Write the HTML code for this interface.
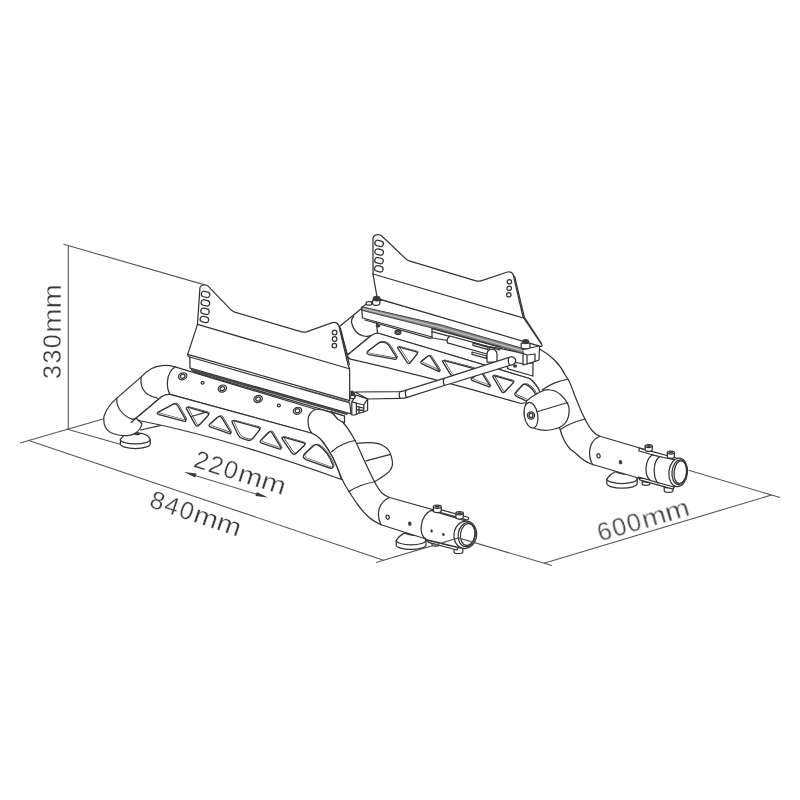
<!DOCTYPE html>
<html><head><meta charset="utf-8"><title>Seat bracket dimensions</title>
<style>
html,body{margin:0;padding:0;background:#fff;}
svg{display:block}
.l{fill:none;stroke:#383333;stroke-width:1.25;stroke-linecap:round;stroke-linejoin:round}
.f{fill:#fff;stroke:#383333;stroke-width:1.25;stroke-linecap:round;stroke-linejoin:round}
.k{fill:#3d3838;stroke:none}
.d{fill:none;stroke:#5a5555;stroke-width:1.1;stroke-linecap:butt}
.t{font-family:"Liberation Sans",sans-serif;font-size:25px;fill:#3e3a39;stroke:#fff;stroke-width:0.3px}
</style></head><body>
<svg width="800" height="800" viewBox="0 0 800 800">
<rect width="800" height="800" fill="#fff"/>
<!-- dimension / extension lines behind the object -->
<g class="d">
<path d="M63.5 244.2 L204.8 284.9"/>
<path d="M68.25 245.5 V429.5"/>
<path d="M20 443 L103 419"/>
<path d="M28 440.2 L383.5 560.2"/>
<path d="M66.5 429 L121 444.5"/>
<path d="M771.5 495 L544 563.2"/>
<path d="M190 474 L262 495.8"/>
</g>
<g class="k">
<path d="M184 472 L196.5 473.6 L195.2 477.6 Z"/>
<path d="M268 497.6 L255.5 496 L256.8 492 Z"/>
</g>
<path class="f" d="M606.80 479.00 V483.60 A15.2 4.5 0 0 0 637.20 483.60 V479.00 C636.20 476.40 632.00 473.80 628.00 473.00 L615.00 471.80 C612.00 473.40 608.30 476.80 606.80 479.00 Z"/><path class="l" d="M606.80 479.00 A15.2 4.5 0 0 0 637.20 479.00"/><ellipse class="k" cx="621.70" cy="472.80" rx="5.6" ry="1.5" transform="rotate(12 621.70 472.80)"/>
<!-- back tube -->
<path class="f" d="M339.4 326.6 L361.25 308.75 L380 312 L380 334 L371.25 335.6 L347.5 355 Z"/>
<path class="l" d="M353.75 316.25 C351.5 319 351 321.5 351.9 323.75 C352.6 326.5 353.8 329 355.6 331.25 C358 334 361.5 335.8 365 336.25 C368.5 336.8 373 335.6 376.5 333.2"/>
<!-- main back tube + S bend -->
<path class="f" d="M377.5 333 L375 308 L520 340 L540 349.25 C546 352.5 551 356.5 555 360.5 C559.5 365 563 370.5 565.5 375.5 L568.5 380 C571 385 572.8 390 574.5 395 C577.2 401.5 579.6 407.5 582 413 C583.6 416.3 585 419.3 586.5 422 C588.3 425.3 590.3 428.5 592.5 431 C594.8 433.6 597 435.2 600 436.25 L660 454 L655 483 L591.25 464 C586 462 581.5 459 577.5 455 C574.5 452 572 450.5 570 449 C567.5 446 565.5 443 564 440 C562.3 436.6 561 433 560.25 429.5 L540 392 C538.8 389 537.3 386.5 535.5 384.5 C533.8 382 532 380 529.5 378.5 Z"/>
<path class="l" d="M542.25 389.75 C546.5 386.8 551 384.5 555.5 382.7 C559.5 381.1 563.8 380 567.75 379.25"/>
<path class="l" d="M560.25 429.5 C564 427 568 424.8 572.5 423 C576.5 421.3 581 420 585 419"/>
<path class="l" d="M600 436.25 C595.5 438 592.5 441 591 445 C589.3 449.5 589.3 454.5 590.2 458.5 C590.7 460.8 591.5 463 592.75 464.75"/>
<ellipse class="l" cx="598.5" cy="455.8" rx="1.6" ry="2.1" transform="rotate(-15 598.5 455.8)"/>
<ellipse class="k" cx="620.5" cy="462.2" rx="1.7" ry="2.2" transform="rotate(-15 620.5 462.2)"/>
<!-- back gusset plate -->
<path class="f" d="M347.5 355 L371.25 335.6 Q374.5 333.2 377.5 333 L529.5 378.5 C532 380 533.8 382 535.5 384.5 C537.3 386.5 538.8 389 540 392 L545 400 L521 403.5 Q430 377 350.5 359.2 Q347.6 358.4 347.5 355 Z"/>
<clipPath id="c1"><path d="M368 351 L378.5 343 Q381 341.4 384.5 342.4 Q387.5 343.4 389 345.6 L396.2 356.8 Q397.6 359.8 394.2 359.2 L369 354.6 Q365.6 353.4 368 351 Z"/></clipPath><path class="f" d="M368 351 L378.5 343 Q381 341.4 384.5 342.4 Q387.5 343.4 389 345.6 L396.2 356.8 Q397.6 359.8 394.2 359.2 L369 354.6 Q365.6 353.4 368 351 Z" style="stroke-width:1.35"/><path class="l" clip-path="url(#c1)" transform="translate(1.3 -1.0)" d="M368 351 L378.5 343 Q381 341.4 384.5 342.4 Q387.5 343.4 389 345.6 L396.2 356.8 Q397.6 359.8 394.2 359.2 L369 354.6 Q365.6 353.4 368 351 Z"/>
<clipPath id="c2"><path d="M398.14 348.74 Q396.60 346.40 399.30 347.14 L415.70 351.66 Q418.40 352.40 416.65 354.58 L410.35 362.42 Q408.60 364.60 407.06 362.26 Z"/></clipPath><path class="f" d="M398.14 348.74 Q396.60 346.40 399.30 347.14 L415.70 351.66 Q418.40 352.40 416.65 354.58 L410.35 362.42 Q408.60 364.60 407.06 362.26 Z" style="stroke-width:1.35"/><path class="l" clip-path="url(#c2)" transform="translate(1.3 -1.0)" d="M398.14 348.74 Q396.60 346.40 399.30 347.14 L415.70 351.66 Q418.40 352.40 416.65 354.58 L410.35 362.42 Q408.60 364.60 407.06 362.26 Z"/>
<clipPath id="c3"><path d="M422.14 363.78 Q419.60 362.60 421.79 360.86 L427.21 356.54 Q429.40 354.80 430.90 357.16 L439.10 370.04 Q440.60 372.40 438.06 371.22 Z"/></clipPath><path class="f" d="M422.14 363.78 Q419.60 362.60 421.79 360.86 L427.21 356.54 Q429.40 354.80 430.90 357.16 L439.10 370.04 Q440.60 372.40 438.06 371.22 Z" style="stroke-width:1.35"/><path class="l" clip-path="url(#c3)" transform="translate(1.3 -1.0)" d="M422.14 363.78 Q419.60 362.60 421.79 360.86 L427.21 356.54 Q429.40 354.80 430.90 357.16 L439.10 370.04 Q440.60 372.40 438.06 371.22 Z"/>
<clipPath id="c4"><path d="M443.07 362.39 Q441.60 360.00 444.31 360.72 L472.09 368.08 Q474.80 368.80 472.94 370.89 L466.86 377.71 Q465.00 379.80 462.28 379.14 L454.52 377.26 Q451.80 376.60 450.33 374.21 Z"/></clipPath><path class="f" d="M443.07 362.39 Q441.60 360.00 444.31 360.72 L472.09 368.08 Q474.80 368.80 472.94 370.89 L466.86 377.71 Q465.00 379.80 462.28 379.14 L454.52 377.26 Q451.80 376.60 450.33 374.21 Z" style="stroke-width:1.35"/><path class="l" clip-path="url(#c4)" transform="translate(1.3 -1.0)" d="M443.07 362.39 Q441.60 360.00 444.31 360.72 L472.09 368.08 Q474.80 368.80 472.94 370.89 L466.86 377.71 Q465.00 379.80 462.28 379.14 L454.52 377.26 Q451.80 376.60 450.33 374.21 Z"/>
<clipPath id="c5"><path d="M472.62 380.60 Q470.00 379.60 472.26 377.95 L478.74 373.25 Q481.00 371.60 482.48 373.97 L489.52 385.23 Q491.00 387.60 488.38 386.60 Z"/></clipPath><path class="f" d="M472.62 380.60 Q470.00 379.60 472.26 377.95 L478.74 373.25 Q481.00 371.60 482.48 373.97 L489.52 385.23 Q491.00 387.60 488.38 386.60 Z" style="stroke-width:1.35"/><path class="l" clip-path="url(#c5)" transform="translate(1.3 -1.0)" d="M472.62 380.60 Q470.00 379.60 472.26 377.95 L478.74 373.25 Q481.00 371.60 482.48 373.97 L489.52 385.23 Q491.00 387.60 488.38 386.60 Z"/>
<clipPath id="c6"><path d="M493.23 377.41 Q491.80 375.00 494.49 375.78 L511.71 380.82 Q514.40 381.60 512.49 383.65 L504.91 391.75 Q503.00 393.80 501.57 391.39 Z"/></clipPath><path class="f" d="M493.23 377.41 Q491.80 375.00 494.49 375.78 L511.71 380.82 Q514.40 381.60 512.49 383.65 L504.91 391.75 Q503.00 393.80 501.57 391.39 Z" style="stroke-width:1.35"/><path class="l" clip-path="url(#c6)" transform="translate(1.3 -1.0)" d="M493.23 377.41 Q491.80 375.00 494.49 375.78 L511.71 380.82 Q514.40 381.60 512.49 383.65 L504.91 391.75 Q503.00 393.80 501.57 391.39 Z"/>
<clipPath id="c7"><path d="M515.4 392.6 L522.2 385.2 Q523.8 383.6 526 384.6 C530.5 386.6 534 390.5 536.2 395.5 L538 401 L525.6 400.6 L516.6 396.4 Q513.6 394.8 515.4 392.6 Z"/></clipPath><path class="f" d="M515.4 392.6 L522.2 385.2 Q523.8 383.6 526 384.6 C530.5 386.6 534 390.5 536.2 395.5 L538 401 L525.6 400.6 L516.6 396.4 Q513.6 394.8 515.4 392.6 Z" style="stroke-width:1.35"/><path class="l" clip-path="url(#c7)" transform="translate(1.3 -1.0)" d="M515.4 392.6 L522.2 385.2 Q523.8 383.6 526 384.6 C530.5 386.6 534 390.5 536.2 395.5 L538 401 L525.6 400.6 L516.6 396.4 Q513.6 394.8 515.4 392.6 Z"/>
<!-- knob -->
<path class="f" d="M526.5 401 C530.5 397.5 535 394.5 540 392 C543 390.6 546 389.6 549 389.75 C553.5 390 557.8 392 561 395 C564 397.8 566.3 400.8 567.75 404 C568.8 406.3 569.3 408.2 569.25 410 C569.2 413.8 568.6 417.4 567 420.5 C565 424.2 562 426.6 558 428 C554.6 429.2 551 430 547.5 430.25 C543.3 430.4 539.5 430 535.5 428.75 L528 424 L524.5 412 Z"/>
<path class="l" d="M537.75 411.5 L567.75 402.5"/>
<ellipse class="f" cx="531" cy="415.25" rx="6.75" ry="12.9" transform="rotate(-10 531 415.25)"/>
<circle class="f" cx="531" cy="415.4" r="3.6"/>
<circle cx="531" cy="415.4" r="2" fill="none" stroke="#3d3838" stroke-width="1.4"/>
<path class="f" d="M507.5 361 L524 364 L533 363 L532.9 376 L507.5 368.7 Z"/>
<ellipse class="k" cx="515" cy="366" rx="2.1" ry="1.8"/>
<!-- back rail -->
<path class="f" d="M361.5 307.4 L368.5 302.6 L383 300.2 L539.6 345 L539 360 L533 362.2 L523 365 L523 353.4 L500 348.4 L432 338 L432 337 L362.5 318 Z"/>
<path d="M362.2 306.8 L440 324.6 L523 348.4 L523 353.4 L440 330 L362.2 310.4 Z" fill="#8c8787" stroke="#3d3838" stroke-width="0.9" stroke-linejoin="round"/>
<path d="M362.4 308.6 L440 327.3 L523 350.9" fill="none" stroke="#dcd9d9" stroke-width="0.8"/>
<path class="l" d="M432 328 V337.4 M365 320 L431 338.6"/>
<path class="l" d="M432 328.6 L500 347.2 M432 331.6 L500 349.8"/>
<!-- end cap -->
<path class="l" d="M523 349.5 L539 346 M527 355 L535 354 V361.4 M527 355 V364 M523 353.4 L527 355"/>
<!-- gas strut, tabs, handle -->
<path class="f" d="M449.75 336 L474.5 342.75 L489.5 347 L489.5 354.75 L447.5 342.9 Q446 339.4 449.75 336 Z"/>
<path class="f" d="M473 343.2 L488 347.4 L488 349.6 L473 345.4 Z"/>
<path class="f" d="M472 352 L486.5 356 L486.5 358.4 L472 354.4 Z"/>
<path class="f" d="M487 362 V354 A5 5 0 0 1 497 354 V362 Z"/>
<!-- bolts under rail -->
<ellipse class="k" cx="378" cy="325.8" rx="2.4" ry="1.6"/>
<ellipse class="f" cx="398" cy="332.2" rx="3" ry="2.2"/><ellipse class="l" cx="398" cy="332.2" rx="1.5" ry="1.1"/>
<!-- back seat bracket -->
<path class="f" d="M373 238.4 Q373.2 235.4 376.4 234.8 Q380 234.2 381.8 236 L405.6 258.6 Q407.6 260.6 410 261.2 L476 280.8 Q478.6 281.6 481 280.8 L507.6 272 Q511.4 271 513.2 274.6 L523 317 L542 345 Q542.6 346.6 540.6 346.4 L383 300.2 L377.2 298 L373 274 Z"/>
<path class="l" d="M373 274 L523.4 318"/>
<path class="l" d="M514.6 276.4 L524.4 317.4 L541.4 343.4"/>
<rect class="l" x="374.90" y="240.60" width="8.6" height="5.6" rx="2.80" transform="rotate(14 379.2 243.4)"/><rect class="l" x="374.90" y="249.20" width="8.6" height="5.6" rx="2.80" transform="rotate(14 379.2 252)"/><rect class="l" x="374.70" y="257.80" width="8.6" height="5.6" rx="2.80" transform="rotate(14 379 260.6)"/><rect class="l" x="374.50" y="266.00" width="8.6" height="5.6" rx="2.80" transform="rotate(14 378.8 268.8)"/><circle class="l" cx="509.4" cy="281.8" r="2.2"/><circle class="l" cx="509.2" cy="288.2" r="2.2"/><circle class="l" cx="508.8" cy="294.8" r="2.2"/><!-- bolt on top right -->
<path class="f" d="M521.2 343 V347 A4.4 1.8 0 0 0 530 347 V343 Z"/>
<ellipse class="k" cx="525.6" cy="341.6" rx="3.6" ry="2.6"/>
<!-- bolt on top left -->
<ellipse class="f" cx="369" cy="303.4" rx="3" ry="1.8"/>
<path class="f" d="M372.6 300 V303.6 A3.6 1.8 0 0 0 379.8 303.6 V300 Z"/>
<ellipse class="k" cx="376.6" cy="298.6" rx="3.8" ry="2.8"/>
<!-- cross rod -->
<path class="f" d="M355 392 L400 391.6 Q403 391.4 406 390.2 L444 378.4 L510 357 Q514.6 356.4 515.6 360 Q516 363.4 512.4 364.6 L446 385 L408 397.2 Q404 398.4 400 398.4 L367.7 399 Z"/>
<path class="l" d="M400 391.6 Q398.4 395 400 398.4 M406 390.2 Q404.4 393.8 406.6 397.6 M444 378.4 Q442.6 381.8 444.4 385.4 M509 357.4 Q507.4 360.8 509.4 365"/>
<!-- rear clamp -->
<g>
<path class="f" d="M642.2 481.6 V483.8 A3.8 1.6 0 0 0 649.8 483.8 V482.6 Z"/>
<path class="f" d="M664.2 487.4 V490.4 A4.4 1.9 0 0 0 673 490.4 V488 Z"/>
<path class="f" d="M638.5 477.2 L639.6 479.8 L673 489.2 L674.4 486.4 Z"/>
<path class="f" d="M639.4 448.2 L676.2 458 Q678 458.8 677 460.2 L674.6 460.8 L638.8 451 Z"/>
<path class="f" d="M652 455 C648.5 457.5 646.4 462.5 646 468.5 C645.8 473.5 647.4 478 650.5 480.5 L674 487 L680 461 Z"/>
<path class="l" d="M659.5 456.8 C656 459.5 654.3 464.5 654.2 470 C654.2 475.5 655.4 480.4 658 483.2"/>
<ellipse class="f" cx="678.2" cy="472.3" rx="9.3" ry="14.3" transform="rotate(6 678.2 472.3)"/>
<ellipse class="l" cx="679.4" cy="472.2" rx="7.4" ry="12.4" transform="rotate(6 679.4 472.2)"/>
<ellipse class="l" cx="680.3" cy="472.1" rx="6.2" ry="11.4" transform="rotate(6 680.3 472.1)"/>
<path class="f" d="M645.2 446 V450 A3.5 1.4 0 0 0 652.2 450 V446 Z"/><ellipse class="f" cx="648.7" cy="446" rx="3.5" ry="1.5"/><ellipse class="k" cx="648.7" cy="446" rx="2.3" ry="0.9"/>
<path class="f" d="M667.4 452.6 V457 A3.5 1.4 0 0 0 674.4 457 V452.6 Z"/><ellipse class="f" cx="670.9" cy="452.6" rx="3.5" ry="1.5"/><ellipse class="k" cx="670.9" cy="452.6" rx="2.3" ry="0.9"/>
</g>
<path class="f" d="M120.40 439.40 V444.00 A14.9 4.5 0 0 0 150.20 444.00 V439.40 C149.20 436.80 145.30 434.20 141.30 433.40 L128.30 432.20 C125.30 433.80 121.90 437.20 120.40 439.40 Z"/><path class="l" d="M120.40 439.40 A14.9 4.5 0 0 0 150.20 439.40"/><ellipse class="k" cx="135.00" cy="433.20" rx="5.6" ry="1.5" transform="rotate(12 135.00 433.20)"/>
<path class="f" d="M396.20 540.30 V544.90 A14.9 4.5 0 0 0 426.00 544.90 V540.30 C425.00 537.70 421.10 535.10 417.10 534.30 L404.10 533.10 C401.10 534.70 397.70 538.10 396.20 540.30 Z"/><path class="l" d="M396.20 540.30 A14.9 4.5 0 0 0 426.00 540.30"/><ellipse class="k" cx="410.80" cy="534.10" rx="5.6" ry="1.5" transform="rotate(12 410.80 534.10)"/>
<!-- FRONT TUBE -->
<g id="front-tube">
<!-- stub tube behind S-bend -->
<path class="f" d="M356 443.5 C361 443 366 442.6 370 442.7 C375 442.9 379 443.5 382 445 C387 447.5 390 451 391 455.5 C392 459 392.8 461.5 392.5 464.5 C392 468.5 389.5 472 385 475 C381.5 477.5 378 480 373 482.5 L356 470 Z"/>
<path class="l" d="M366 460.8 L389.6 454.6"/>
<!-- tube body outline -->
<path class="f" d="M175 366.9 C170 365.5 166 365.3 162.5 365.6 C158 366 154.5 367 151.25 368.75 C147.5 370.8 144 374 141.25 376.9 L116.9 398.1 C113 401.5 109.5 405 107.5 408.75 C105.3 412.5 104 415.5 103.75 418.1 C103.6 421.5 104 424.5 105.6 427.5 C107.3 430.6 110 432.6 113.75 433.75 C118 435.1 123 435.8 127.5 435.6 C131 435.5 133.5 434.5 135.5 433 C138.5 431 141 428.5 141.9 423.75 L136.25 418.1 L161.25 396.9 C164 395 167 394.2 170 394.4 L311.75 433.25 C316 434.8 319 437.5 322 441 C326.5 446.5 329.5 451.5 332.5 457 C335.5 463 338.5 470.5 341.5 478 C344 483.5 346.3 487.5 349 491.5 C351.8 496 354.8 500.8 358 505 C360.8 508.8 363.6 512.2 367 515.5 C370 518.5 374 521.5 381 524.75 L426 539 L433.5 509.75 L389.5 497.5 C386.5 496.3 384 494.8 382 493 C379.5 490.5 377 486.5 374.5 481.75 C371 475 367.5 467.5 364 460 C361 453.5 358.3 446.5 355 440.5 C351.5 433.8 347.5 427.5 343 422.5 C339 418 334.5 414.2 329.5 412 C325 410 320.5 409.3 315.5 409.25 Z"/>
<!-- elbow joint arcs -->
<path class="l" d="M175 366.9 C171 369.5 168 375 167.5 381.25 C167.1 386.5 168 391 170 394.4"/>
<path class="l" d="M141.25 376.9 C140.5 381.5 141 385.5 142.8 389 C145.5 393.8 150.5 396.8 157.5 398.2"/>
<path class="l" d="M116.9 398.1 C116.3 402.5 117.5 406.5 120 410 C122.8 414 127 417.5 132.5 419.4 L136.25 418.1"/>
<path class="l" d="M136.25 418.1 L131.25 422.5"/>
<!-- main tube end ellipse -->
<path class="l" d="M315.5 409.25 C311 411.5 308 415.5 308 420.5 C308 425.5 309.3 430 311.75 433.25"/>
<!-- S-bend joint arcs -->
<path class="l" d="M331.75 451.75 C335 448.5 339 446 343 444.25 C347 442.4 351 441.2 355 440.5"/>
<path class="l" d="M349 491.5 C352.5 489.3 356.5 487.2 361 485.5 C365.5 483.8 370 482.6 374.5 481.75"/>
<!-- straight section left ellipse -->
<path class="l" d="M389.5 497.5 C384.5 499.5 381 503.5 379.3 508.5 C377.8 513.5 378.3 519.5 381 524.75"/>
<!-- holes on straight section -->
<ellipse class="l" cx="387.7" cy="517.2" rx="1.6" ry="2.1" transform="rotate(-15 387.7 517.2)"/>
<ellipse cx="409.8" cy="523.7" rx="1.7" ry="2.2" fill="#3d3838" transform="rotate(-15 409.8 523.7)"/>
<!-- main tube bolts & holes -->
<g class="l">
<ellipse cx="182.7" cy="376.3" rx="4.3" ry="3.4" transform="rotate(-20 182.7 376.3)"/><ellipse cx="182.7" cy="376.3" rx="2.4" ry="1.9" transform="rotate(-20 182.7 376.3)"/>
<ellipse cx="222.4" cy="388.6" rx="4.3" ry="3.4" transform="rotate(-20 222.4 388.6)"/><ellipse cx="222.4" cy="388.6" rx="2.4" ry="1.9" transform="rotate(-20 222.4 388.6)"/>
<ellipse cx="258.1" cy="399" rx="4.3" ry="3.4" transform="rotate(-20 258.1 399)"/><ellipse cx="258.1" cy="399" rx="2.4" ry="1.9" transform="rotate(-20 258.1 399)"/>
<ellipse cx="297.5" cy="410.8" rx="4.3" ry="3.4" transform="rotate(-20 297.5 410.8)"/><ellipse cx="297.5" cy="410.8" rx="2.4" ry="1.9" transform="rotate(-20 297.5 410.8)"/>
<ellipse cx="202.6" cy="382.7" rx="1.5" ry="1.3"/>
<ellipse cx="278.8" cy="405.5" rx="1.5" ry="1.3"/>
</g>
</g>
<!-- front gusset plate -->
<path class="l" d="M140.5 430 L161 425.3"/>
<path class="f" d="M136.25 418.1 L161.25 396.9 C164 395 167 394.2 170 394.4 L311.75 433.25 C316 434.8 319 437.5 322 441 C326.5 446.5 329.5 451.5 332.5 457 C335.5 463 338.5 470.5 341.5 479.5 Q224.6 437.4 141 421 Q137.5 420.3 136.25 418.1 Z"/>
<clipPath id="c8"><path d="M159.08 414.53 Q155.60 413.60 158.77 411.89 L172.83 404.31 Q176.00 402.60 177.78 405.73 L185.22 418.87 Q187.00 422.00 183.52 421.07 Z"/></clipPath><path class="f" d="M159.08 414.53 Q155.60 413.60 158.77 411.89 L172.83 404.31 Q176.00 402.60 177.78 405.73 L185.22 418.87 Q187.00 422.00 183.52 421.07 Z" style="stroke-width:1.35"/><path class="l" clip-path="url(#c8)" transform="translate(1.3 -1.0)" d="M159.08 414.53 Q155.60 413.60 158.77 411.89 L172.83 404.31 Q176.00 402.60 177.78 405.73 L185.22 418.87 Q187.00 422.00 183.52 421.07 Z"/>
<clipPath id="c9"><path d="M186.93 409.56 Q185.20 406.40 188.66 407.40 L206.54 412.60 Q210.00 413.60 207.53 416.22 L199.27 424.98 Q196.80 427.60 195.07 424.44 Z"/></clipPath><path class="f" d="M186.93 409.56 Q185.20 406.40 188.66 407.40 L206.54 412.60 Q210.00 413.60 207.53 416.22 L199.27 424.98 Q196.80 427.60 195.07 424.44 Z" style="stroke-width:1.35"/><path class="l" clip-path="url(#c9)" transform="translate(1.3 -1.0)" d="M186.93 409.56 Q185.20 406.40 188.66 407.40 L206.54 412.60 Q210.00 413.60 207.53 416.22 L199.27 424.98 Q196.80 427.60 195.07 424.44 Z"/>
<clipPath id="c10"><path d="M210.99 427.02 Q207.60 425.80 210.33 423.46 L217.47 417.34 Q220.20 415.00 222.06 418.08 L230.14 431.52 Q232.00 434.60 228.61 433.38 Z"/></clipPath><path class="f" d="M210.99 427.02 Q207.60 425.80 210.33 423.46 L217.47 417.34 Q220.20 415.00 222.06 418.08 L230.14 431.52 Q232.00 434.60 228.61 433.38 Z" style="stroke-width:1.35"/><path class="l" clip-path="url(#c10)" transform="translate(1.3 -1.0)" d="M210.99 427.02 Q207.60 425.80 210.33 423.46 L217.47 417.34 Q220.20 415.00 222.06 418.08 L230.14 431.52 Q232.00 434.60 228.61 433.38 Z"/>
<clipPath id="c11"><path d="M232.46 423.07 Q231.00 420.00 234.28 420.90 L257.72 427.30 Q261.00 428.20 258.88 430.85 L252.72 438.55 Q250.60 441.20 247.36 440.16 L242.64 438.64 Q239.40 437.60 237.94 434.53 Z"/></clipPath><path class="f" d="M232.46 423.07 Q231.00 420.00 234.28 420.90 L257.72 427.30 Q261.00 428.20 258.88 430.85 L252.72 438.55 Q250.60 441.20 247.36 440.16 L242.64 438.64 Q239.40 437.60 237.94 434.53 Z" style="stroke-width:1.35"/><path class="l" clip-path="url(#c11)" transform="translate(1.3 -1.0)" d="M232.46 423.07 Q231.00 420.00 234.28 420.90 L257.72 427.30 Q261.00 428.20 258.88 430.85 L252.72 438.55 Q250.60 441.20 247.36 440.16 L242.64 438.64 Q239.40 437.60 237.94 434.53 Z"/>
<clipPath id="c12"><path d="M262.22 443.33 Q258.80 442.20 261.32 439.63 L268.08 432.77 Q270.60 430.20 272.44 433.29 L280.56 446.91 Q282.40 450.00 278.98 448.87 Z"/></clipPath><path class="f" d="M262.22 443.33 Q258.80 442.20 261.32 439.63 L268.08 432.77 Q270.60 430.20 272.44 433.29 L280.56 446.91 Q282.40 450.00 278.98 448.87 Z" style="stroke-width:1.35"/><path class="l" clip-path="url(#c12)" transform="translate(1.3 -1.0)" d="M262.22 443.33 Q258.80 442.20 261.32 439.63 L268.08 432.77 Q270.60 430.20 272.44 433.29 L280.56 446.91 Q282.40 450.00 278.98 448.87 Z"/>
<clipPath id="c13"><path d="M282.62 439.38 Q280.60 436.40 284.07 437.37 L302.93 442.63 Q306.40 443.60 303.77 446.06 L296.23 453.14 Q293.60 455.60 291.58 452.62 Z"/></clipPath><path class="f" d="M282.62 439.38 Q280.60 436.40 284.07 437.37 L302.93 442.63 Q306.40 443.60 303.77 446.06 L296.23 453.14 Q293.60 455.60 291.58 452.62 Z" style="stroke-width:1.35"/><path class="l" clip-path="url(#c13)" transform="translate(1.3 -1.0)" d="M282.62 439.38 Q280.60 436.40 284.07 437.37 L302.93 442.63 Q306.40 443.60 303.77 446.06 L296.23 453.14 Q293.60 455.60 291.58 452.62 Z"/>
<clipPath id="c14"><path d="M304.4 454 L313.4 445.6 Q315.8 443.8 318.6 445.4 C325 449.5 330 457 333 465 Q334 469.2 329.6 468 L306 459.6 Q301.6 457.6 304.4 454 Z"/></clipPath><path class="f" d="M304.4 454 L313.4 445.6 Q315.8 443.8 318.6 445.4 C325 449.5 330 457 333 465 Q334 469.2 329.6 468 L306 459.6 Q301.6 457.6 304.4 454 Z" style="stroke-width:1.35"/><path class="l" clip-path="url(#c14)" transform="translate(1.3 -1.0)" d="M304.4 454 L313.4 445.6 Q315.8 443.8 318.6 445.4 C325 449.5 330 457 333 465 Q334 469.2 329.6 468 L306 459.6 Q301.6 457.6 304.4 454 Z"/>
<path class="l" d="M191.6 416.5 L205 412.4"/>
<g transform="translate(0 0)">
<path class="f" d="M432 541.5 V544.6 A3.8 1.6 0 0 0 439.6 544.6 V542.5 Z"/><path class="f" d="M454 546.5 V551.8 A4.4 1.9 0 0 0 462.8 551.8 V547.5 Z"/><path class="f" d="M427 540.2 L428.5 542.3 L457 550 L458 547.5 Z"/><path class="f" d="M440.6 509.6 L467.3 517 Q469.4 517.8 468.3 519.2 Q467.3 520.2 465.6 519.6 L440.6 512.6 Z"/><path class="f" d="M431.2 510.3 C426 512.5 422.3 518.5 421.3 525.5 C420.5 531.5 422.5 537 426.4 539.6 L462.25 548.4 L469 522 Z"/><ellipse class="f" cx="465.3" cy="534.8" rx="11.3" ry="13.8" transform="rotate(8 465.3 534.8)"/><ellipse class="l" cx="466.7" cy="534.7" rx="8.6" ry="12" transform="rotate(8 466.7 534.7)"/><ellipse class="l" cx="467.7" cy="534.5" rx="7.2" ry="11" transform="rotate(8 467.7 534.5)"/><path class="f" d="M433.4 506.8 V511 A3.9 1.5 0 0 0 441.2 511 V506.8 Z"/><ellipse class="f" cx="437.3" cy="506.8" rx="3.9" ry="1.6"/><ellipse class="k" cx="437.3" cy="506.8" rx="2.6" ry="1"/><path class="f" d="M455.9 513.3 V517.6 A3.7 1.5 0 0 0 463.3 517.6 V513.3 Z"/><ellipse class="f" cx="459.6" cy="513.3" rx="3.7" ry="1.6"/><ellipse class="k" cx="459.6" cy="513.3" rx="2.5" ry="1"/><ellipse class="k" cx="431.6" cy="530.9" rx="1.2" ry="1.6"/><ellipse class="k" cx="443.4" cy="534.4" rx="1.2" ry="1.6"/></g>
<!-- front rail -->
<path class="f" d="M344.5 416 L344.5 422.7 L338 419.5 L331.4 411.75 Z"/>
<path class="f" d="M189.8 357 L349.75 403 L351 413.8 L190 368.1 Z"/>
<path d="M191 369.6 L347.5 414.2" fill="none" stroke="#4a4545" stroke-width="2"/>
<path class="l" d="M193 371.6 L344.5 416"/>
<!-- rail end cap -->
<path class="f" d="M351.8 401.8 L356 395.2 L367.6 398.8 L367.6 410.5 L363.8 412 L359 413.2 L355 415 L351.8 414.8 Z"/>
<path class="l" d="M351.8 401.8 L363.8 405 L367.6 398.8 M363.8 405 V412"/>
<path class="l" d="M356.4 403.2 V414.4 M356.4 406.4 L363.8 408.2 M357 409.6 L363.6 410.4 M359 407 V413"/>
<ellipse class="f" cx="352.5" cy="397" rx="2.6" ry="1.6"/>
<path class="k" d="M350.4 391 Q352.6 389.6 354.8 392.2 L355.4 395.4 L350.4 395.4 Z"/>
<!-- front seat bracket -->
<path class="f" d="M199.9 288 Q200.2 285.4 204.4 285 Q207 284.9 208.6 286.6 L229.8 308.6 Q232 311.2 234.6 312.1 L301.8 331.8 Q304.6 332.6 307.2 331.6 L332.3 322.6 Q336.8 321.4 338.7 325.2 L348.1 365 L349.6 368.75 L349.75 400.6 L187.7 354.4 L197.5 324.4 Z"/>
<path class="l" d="M197.5 324.4 L349.2 368.75"/>
<path class="l" d="M340.4 328 L349.4 364.6"/>
<path class="l" d="M187.7 354.4 Q187.4 356.4 189.8 357"/>
<path class="l" d="M300 388.2 L349.75 401.9" style="stroke-width:0.8"/>
<rect class="l" x="201.30" y="291.60" width="8.6" height="5.6" rx="2.80" transform="rotate(14 205.6 294.4)"/><rect class="l" x="201.10" y="300.10" width="8.6" height="5.6" rx="2.80" transform="rotate(14 205.4 302.9)"/><rect class="l" x="200.70" y="308.50" width="8.6" height="5.6" rx="2.80" transform="rotate(14 205 311.3)"/><rect class="l" x="200.10" y="316.70" width="8.6" height="5.6" rx="2.80" transform="rotate(14 204.4 319.5)"/><circle class="l" cx="334.6" cy="332.5" r="2.3"/><circle class="l" cx="334.6" cy="339" r="2.3"/><circle class="l" cx="334.4" cy="345.6" r="2.3"/>
<!-- extension lines drawn over the clamps -->
<g class="d">
<path d="M376 562.5 L458.5 537.9 L551.8 565.5"/>
<path d="M688.6 470.3 L780 497.5"/>
</g>
<!-- dimension labels -->
<g opacity="0.995">
<text class="t" transform="translate(61 379) rotate(-90)"><tspan letter-spacing="1.5">330</tspan><tspan textLength="48.7" lengthAdjust="spacingAndGlyphs">mm</tspan></text>
<text class="t" transform="translate(192.4 466.5) rotate(17.6)"><tspan letter-spacing="1.5">220</tspan><tspan textLength="48.7" lengthAdjust="spacingAndGlyphs">mm</tspan></text>
<text class="t" transform="translate(148.2 506.6) rotate(18.6)"><tspan letter-spacing="1.5">840</tspan><tspan textLength="48.7" lengthAdjust="spacingAndGlyphs">mm</tspan></text>
<text class="t" transform="translate(600.2 541.8) rotate(-16.5)"><tspan letter-spacing="1.5">600</tspan><tspan textLength="48.7" lengthAdjust="spacingAndGlyphs">mm</tspan></text>
</g>
</svg>
</body></html>
